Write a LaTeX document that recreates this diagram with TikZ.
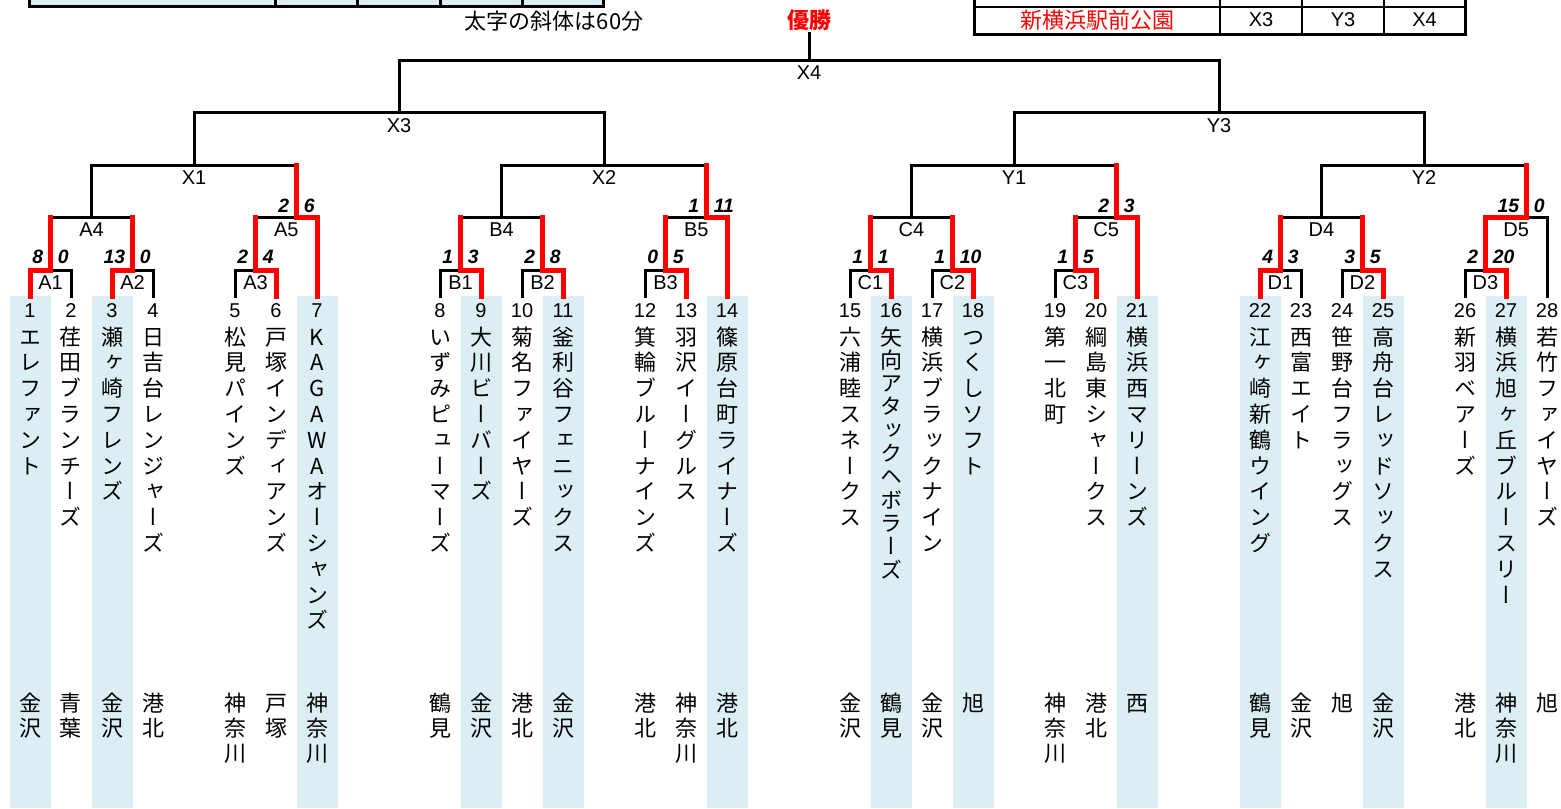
\documentclass[tikz,border=0pt]{standalone}
\usepackage{fontspec}
\setmainfont{Liberation Sans}
\newfontfamily\cjk{Noto Sans CJK JP}
\newfontfamily\cjkv[RawFeature=+vert]{Noto Sans CJK JP}
\usetikzlibrary{calc}
\definecolor{hlblue}{RGB}{218,238,243}
\definecolor{winred}{RGB}{255,0,0}
\tikzset{
  bk/.style={draw=black, line width=2.25pt, line cap=rect, line join=miter},
  rd/.style={draw=winred, line width=3.75pt, line cap=rect, line join=miter},
  mlabel/.style={font=\fontsize{15pt}{17pt}\selectfont, inner sep=0pt},
  scorelbl/.style={font=\fontsize{14.5pt}{16pt}\selectfont\bfseries\itshape, inner sep=0pt},
  tnum/.style={font=\fontsize{15pt}{17pt}\selectfont, anchor=base, inner sep=0pt},
  vchar/.style={font=\cjkv\fontsize{16.5pt}{18pt}\selectfont, anchor=base, inner sep=0pt},
  toptext/.style={font=\cjk\fontsize{16.5pt}{18pt}\selectfont, inner sep=0pt},
  hlcol/.style={fill=hlblue},
  tblline/.style={draw=black, line width=2.25pt},
  tblthin/.style={draw=black, line width=1.5pt},
}
\newcommand\vstack[5]{\foreach \ch [count=\i from 0] in {#5} {\node[vchar] (#1-\i) at (#2,#3+#4*\i) {\ch};}}
\newcommand\teamcol[5][25.8]{%
  \coordinate (t#2) at (#3,296);
  \node[tnum] (n#2) at (#3,317.5) {#2};
  \vstack{nm#2}{#3}{345}{#1}{#4}
  \vstack{ds#2}{#3}{711.3}{25}{#5}}
\newcommand\hlcolumn[1]{\fill[hlcol] (#1-20,296) rectangle (#1+21,808);}
\newcommand\scorepair[5]{%
  \node[scorelbl,anchor=east] (#1-l) at (#2-7,#3) {#4};
  \node[scorelbl,anchor=west] (#1-r) at (#2+7,#3) {#5};}
\begin{document}
\begin{tikzpicture}[x=0.75pt,y=-0.75pt]
\useasboundingbox (0,0) rectangle (1561,808);

% ---------- top tables ----------
\fill[hlcol] (29,-4) rectangle (603,6);
\draw[tblline] (29,-4) -- (29,6) -- (603,6) -- (603,-4);
\foreach \xx in {275,357,440,522} \draw[tblline] (\xx,-4) -- (\xx,6);
\node[toptext] (note) at (554,21) {太字の斜体は60分};

\draw[tblthin] (974,7) -- (1465,7);
\draw[tblline] (974,-4) -- (974,34) -- (1465,34) -- (1465,-4);
\foreach \xx in {1220,1302,1384} \draw[tblthin] (\xx,-4) -- (\xx,34);
\node[toptext, text=winred] (venue) at (1097,20) {新横浜駅前公園};
\node[mlabel] (v1) at (1261,20) {X3};
\node[mlabel] (v2) at (1343,20) {Y3};
\node[mlabel] (v3) at (1424.5,20) {X4};

\node[toptext, font=\cjk\bfseries\fontsize{16.5pt}{18pt}\selectfont, text=winred] (yusho) at (809,20) {優勝};

% ---------- highlighted columns ----------
\foreach \xx in {30,112,317,481,563,727,891,973,1137,1260,1383,1506} {\hlcolumn{\xx}}

% ---------- teams ----------
\teamcol{1}{30}{エ,レ,フ,ァ,ン,ト}{金,沢}
\teamcol{2}{71}{荏,田,ブ,ラ,ン,チ,ー,ズ}{青,葉}
\teamcol{3}{112}{瀬,ヶ,崎,フ,レ,ン,ズ}{金,沢}
\teamcol{4}{153}{日,吉,台,レ,ン,ジ,ャ,ー,ズ}{港,北}
\teamcol{5}{235}{松,見,パ,イ,ン,ズ}{神,奈,川}
\teamcol{6}{276}{戸,塚,イ,ン,デ,ィ,ア,ン,ズ}{戸,塚}
\teamcol{7}{317}{K,A,G,A,W,A,オ,ー,シ,ャ,ン,ズ}{神,奈,川}
\teamcol{8}{440}{い,ず,み,ピ,ュ,ー,マ,ー,ズ}{鶴,見}
\teamcol{9}{481}{大,川,ビ,ー,バ,ー,ズ}{金,沢}
\teamcol{10}{522}{菊,名,フ,ァ,イ,ヤ,ー,ズ}{港,北}
\teamcol{11}{563}{釜,利,谷,フ,ェ,ニ,ッ,ク,ス}{金,沢}
\teamcol{12}{645}{箕,輪,ブ,ル,ー,ナ,イ,ン,ズ}{港,北}
\teamcol{13}{686}{羽,沢,イ,ー,グ,ル,ス}{神,奈,川}
\teamcol{14}{727}{篠,原,台,町,ラ,イ,ナ,ー,ズ}{港,北}
\teamcol{15}{850}{六,浦,睦,ス,ネ,ー,ク,ス}{金,沢}
\teamcol[23.3]{16}{891}{矢,向,ア,タ,ッ,ク,ヘ,ボ,ラ,ー,ズ}{鶴,見}
\teamcol{17}{932}{横,浜,ブ,ラ,ッ,ク,ナ,イ,ン}{金,沢}
\teamcol{18}{973}{つ,く,し,ソ,フ,ト}{旭}
\teamcol{19}{1055}{第,一,北,町}{神,奈,川}
\teamcol{20}{1096}{綱,島,東,シ,ャ,ー,ク,ス}{港,北}
\teamcol{21}{1137}{横,浜,西,マ,リ,ー,ン,ズ}{西}
\teamcol{22}{1260}{江,ヶ,崎,新,鶴,ウ,イ,ン,グ}{鶴,見}
\teamcol{23}{1301}{西,富,エ,イ,ト}{金,沢}
\teamcol{24}{1342}{笹,野,台,フ,ラ,ッ,グ,ス}{旭}
\teamcol{25}{1383}{高,舟,台,レ,ッ,ド,ソ,ッ,ク,ス}{金,沢}
\teamcol{26}{1465}{新,羽,ベ,ア,ー,ズ}{港,北}
\teamcol{27}{1506}{横,浜,旭,ヶ,丘,ブ,ル,ー,ス,リ,ー}{神,奈,川}
\teamcol{28}{1547}{若,竹,フ,ァ,イ,ヤ,ー,ズ}{旭}

% ---------- bracket joints ----------
\coordinate (A1) at (50.5,270);   \coordinate (A2) at (132.5,270);  \coordinate (A3) at (255.5,270);
\coordinate (A4) at (91.5,217);   \coordinate (A5) at (296.5,217);  \coordinate (X1) at (194,165);
\coordinate (B1) at (460.5,270);  \coordinate (B2) at (542.5,270);  \coordinate (B3) at (665.5,270);
\coordinate (B4) at (501.5,217);  \coordinate (B5) at (706.5,217);  \coordinate (X2) at (604,165);
\coordinate (X3) at (399,112);
\coordinate (C1) at (870.5,270);  \coordinate (C2) at (952.5,270);  \coordinate (C3) at (1075.5,270);
\coordinate (C4) at (911.5,217);  \coordinate (C5) at (1116.5,217); \coordinate (Y1) at (1014,165);
\coordinate (D1) at (1280.5,270); \coordinate (D2) at (1362.5,270); \coordinate (D3) at (1485.5,270);
\coordinate (D4) at (1321.5,217); \coordinate (D5) at (1526.5,217); \coordinate (Y2) at (1424,165);
\coordinate (Y3) at (1219,112);
\coordinate (X4) at (809,60);     \coordinate (champ) at (809,33);

% ---------- black lines ----------
\draw[bk] (t2) |- (A1);  \draw[bk] (t4) |- (A2);  \draw[bk] (t5) |- (A3);
\draw[bk] (t8) |- (B1);  \draw[bk] (t10) |- (B2); \draw[bk] (t12) |- (B3);
\draw[bk] (t15) |- (C1); \draw[bk] (t17) |- (C2); \draw[bk] (t19) |- (C3);
\draw[bk] (t23) |- (D1); \draw[bk] (t24) |- (D2); \draw[bk] (t26) |- (D3);
\draw[bk] (A1 |- A4) -- (A2 |- A4); \draw[bk] (A4) -- (A4 |- X1);
\draw[bk] (B1 |- B4) -- (B2 |- B4); \draw[bk] (B4) -- (B4 |- X2);
\draw[bk] (C1 |- C4) -- (C2 |- C4); \draw[bk] (C4) -- (C4 |- Y1);
\draw[bk] (D1 |- D4) -- (D2 |- D4); \draw[bk] (D4) -- (D4 |- Y2);
\draw[bk] (A3 |- A5) -- (A5);
\draw[bk] (B3 |- B5) -- (B5);
\draw[bk] (C3 |- C5) -- (C5);
\draw[bk] (t28) |- (D5);
\draw[bk] (A4 |- X1) -- (A5 |- X1); \draw[bk] (X1) -- (X1 |- X3);
\draw[bk] (B4 |- X2) -- (B5 |- X2); \draw[bk] (X2) -- (X2 |- X3);
\draw[bk] (C4 |- Y1) -- (C5 |- Y1); \draw[bk] (Y1) -- (Y1 |- Y3);
\draw[bk] (D4 |- Y2) -- (D5 |- Y2); \draw[bk] (Y2) -- (Y2 |- Y3);
\draw[bk] (X1 |- X3) -- (X2 |- X3); \draw[bk] (X3) -- (X3 |- X4);
\draw[bk] (Y1 |- Y3) -- (Y2 |- Y3); \draw[bk] (Y3) -- (Y3 |- X4);
\draw[bk] (X3 |- X4) -- (Y3 |- X4); \draw[bk] (X4) -- (champ);

% ---------- red (winners) ----------
\draw[rd] (t1) |- (A1) -- (A1 |- A4);
\draw[rd] (t3) |- (A2) -- (A2 |- A4);
\draw[rd] (t6) |- (A3) -- (A3 |- A5);
\draw[rd] (t7) |- (A5) -- (A5 |- X1);
\draw[rd] (t9) |- (B1) -- (B1 |- B4);
\draw[rd] (t11) |- (B2) -- (B2 |- B4);
\draw[rd] (t13) |- (B3) -- (B3 |- B5);
\draw[rd] (t14) |- (B5) -- (B5 |- X2);
\draw[rd] (t16) |- (C1) -- (C1 |- C4);
\draw[rd] (t18) |- (C2) -- (C2 |- C4);
\draw[rd] (t20) |- (C3) -- (C3 |- C5);
\draw[rd] (t21) |- (C5) -- (C5 |- Y1);
\draw[rd] (t22) |- (D1) -- (D1 |- D4);
\draw[rd] (t25) |- (D2) -- (D2 |- D4);
\draw[rd] (t27) |- (D3) -- (D3 |- D5) -- (D5) -- (D5 |- Y2);

% ---------- match labels ----------
\node[mlabel] (lA1) at (50.5,283) {A1};  \node[mlabel] (lA2) at (132.5,283) {A2};  \node[mlabel] (lA3) at (255.5,283) {A3};
\node[mlabel] (lB1) at (460.5,283) {B1}; \node[mlabel] (lB2) at (542.5,283) {B2};  \node[mlabel] (lB3) at (665.5,283) {B3};
\node[mlabel] (lC1) at (870.5,283) {C1}; \node[mlabel] (lC2) at (952.5,283) {C2};  \node[mlabel] (lC3) at (1075.5,283) {C3};
\node[mlabel] (lD1) at (1280.5,283) {D1};\node[mlabel] (lD2) at (1362.5,283) {D2}; \node[mlabel] (lD3) at (1485.5,283) {D3};
\node[mlabel] (lA4) at (91.5,230) {A4};  \node[mlabel] (lA5) at (286.25,230) {A5};
\node[mlabel] (lB4) at (501.5,230) {B4}; \node[mlabel] (lB5) at (696.25,230) {B5};
\node[mlabel] (lC4) at (911.5,230) {C4}; \node[mlabel] (lC5) at (1106.25,230) {C5};
\node[mlabel] (lD4) at (1321.5,230) {D4};\node[mlabel] (lD5) at (1516.25,230) {D5};
\node[mlabel] (lX1) at (194,178) {X1};   \node[mlabel] (lX2) at (604,178) {X2};
\node[mlabel] (lY1) at (1014,178) {Y1};  \node[mlabel] (lY2) at (1424,178) {Y2};
\node[mlabel] (lX3) at (399,126) {X3};   \node[mlabel] (lY3) at (1219,126) {Y3};
\node[mlabel] (lX4) at (809,73) {X4};

% ---------- scores ----------
\scorepair{sA1}{50.5}{257}{8}{0}
\scorepair{sA2}{132.5}{257}{13}{0}
\scorepair{sA3}{255.5}{257}{2}{4}
\scorepair{sA5}{296.5}{206}{2}{6}
\scorepair{sB1}{460.5}{257}{1}{3}
\scorepair{sB2}{542.5}{257}{2}{8}
\scorepair{sB3}{665.5}{257}{0}{5}
\scorepair{sB5}{706.5}{206}{1}{11}
\scorepair{sC1}{870.5}{257}{1}{1}
\scorepair{sC2}{952.5}{257}{1}{10}
\scorepair{sC3}{1075.5}{257}{1}{5}
\scorepair{sC5}{1116.5}{206}{2}{3}
\scorepair{sD1}{1280.5}{257}{4}{3}
\scorepair{sD2}{1362.5}{257}{3}{5}
\scorepair{sD3}{1485.5}{257}{2}{20}
\scorepair{sD5}{1526.5}{206}{15}{0}
\end{tikzpicture}
\end{document}
